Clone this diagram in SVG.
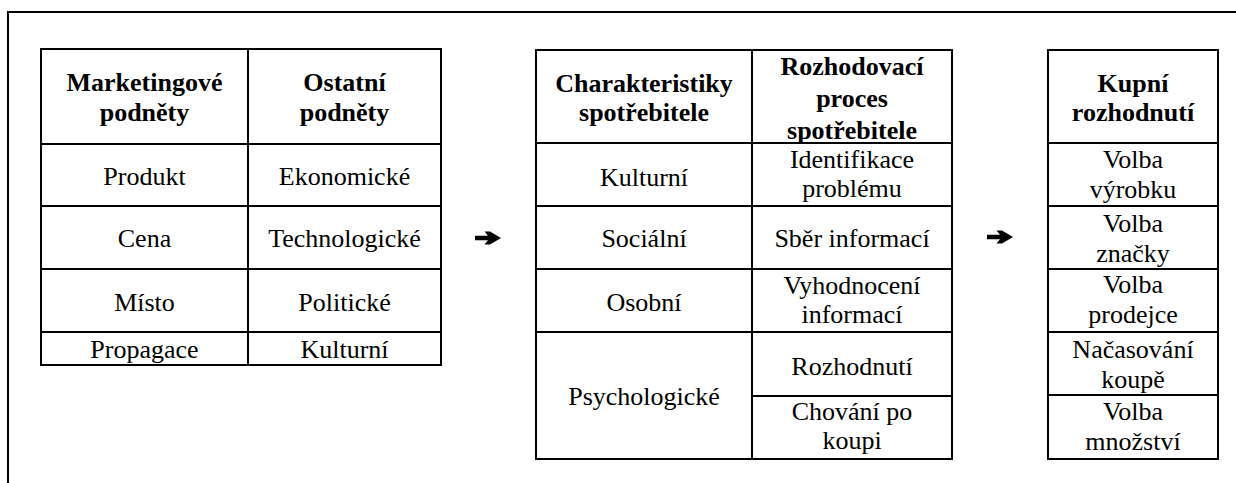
<svg xmlns="http://www.w3.org/2000/svg" width="1236" height="483" viewBox="0 0 1236 483" font-family="Times New Roman, serif" font-size="26">
<style>
.b{font-weight:bold}
.c{fill:#fff;stroke:#000;stroke-width:2}
.frame{fill:none;stroke:#000;stroke-width:2}
.arr{fill:#000}
</style>
<defs>
<path id="arrow" d="M0,-2.2 L13,-2.2 L9.5,-6.5 L15,-6.5 L26,0 L15,6.5 L9.5,6.5 L13,2.2 L0,2.2 Z"/>
</defs>
<rect x="0" y="0" width="1236" height="483" fill="#fff"/>
<path class="frame" d="M8,483 L8,12 L1236,12"/>

<g id="stimuli" text-anchor="middle">
<rect class="c" x="41" y="49" width="207" height="95"/>
<rect class="c" x="248" y="49" width="193" height="95"/>
<rect class="c" x="41" y="144" width="207" height="62"/>
<rect class="c" x="248" y="144" width="193" height="62"/>
<rect class="c" x="41" y="206" width="207" height="63"/>
<rect class="c" x="248" y="206" width="193" height="63"/>
<rect class="c" x="41" y="269" width="207" height="63"/>
<rect class="c" x="248" y="269" width="193" height="63"/>
<rect class="c" x="41" y="332" width="207" height="33"/>
<rect class="c" x="248" y="332" width="193" height="33"/>
<text class="b" x="144.5" y="91">Marketingové</text>
<text class="b" x="144.5" y="121">podněty</text>
<text class="b" x="344.5" y="91">Ostatní</text>
<text class="b" x="344.5" y="121">podněty</text>
<text x="144.5" y="185">Produkt</text>
<text x="344.5" y="185">Ekonomické</text>
<text x="144.5" y="247">Cena</text>
<text x="344.5" y="247">Technologické</text>
<text x="144.5" y="311">Místo</text>
<text x="344.5" y="311">Politické</text>
<text x="144.5" y="358">Propagace</text>
<text x="344.5" y="358">Kulturní</text>
</g>

<g id="consumer" text-anchor="middle">
<rect class="c" x="536" y="50" width="216" height="93"/>
<rect class="c" x="752" y="50" width="200" height="93"/>
<rect class="c" x="536" y="143" width="216" height="63"/>
<rect class="c" x="752" y="143" width="200" height="63"/>
<rect class="c" x="536" y="206" width="216" height="63"/>
<rect class="c" x="752" y="206" width="200" height="63"/>
<rect class="c" x="536" y="269" width="216" height="63"/>
<rect class="c" x="752" y="269" width="200" height="63"/>
<rect class="c" x="536" y="332" width="216" height="127"/>
<rect class="c" x="752" y="332" width="200" height="64"/>
<rect class="c" x="752" y="396" width="200" height="63"/>
<text class="b" x="644" y="92">Charakteristiky</text>
<text class="b" x="644" y="121">spotřebitele</text>
<text class="b" x="852" y="75">Rozhodovací</text>
<text class="b" x="852" y="107">proces</text>
<text class="b" x="852" y="139">spotřebitele</text>
<text x="644" y="186">Kulturní</text>
<text x="852" y="168">Identifikace</text>
<text x="852" y="197">problému</text>
<text x="644" y="247">Sociální</text>
<text x="852" y="247">Sběr informací</text>
<text x="644" y="311">Osobní</text>
<text x="852" y="294">Vyhodnocení</text>
<text x="852" y="323">informací</text>
<text x="644" y="405">Psychologické</text>
<text x="852" y="375">Rozhodnutí</text>
<text x="852" y="420">Chování po</text>
<text x="852" y="449">koupi</text>
</g>

<g id="decision" text-anchor="middle">
<rect class="c" x="1048" y="50" width="170" height="93"/>
<rect class="c" x="1048" y="143" width="170" height="63"/>
<rect class="c" x="1048" y="206" width="170" height="63"/>
<rect class="c" x="1048" y="269" width="170" height="63"/>
<rect class="c" x="1048" y="332" width="170" height="63"/>
<rect class="c" x="1048" y="395" width="170" height="64"/>
<text class="b" x="1133" y="92">Kupní</text>
<text class="b" x="1133" y="121">rozhodnutí</text>
<text x="1133" y="168">Volba</text>
<text x="1133" y="198">výrobku</text>
<text x="1133" y="232">Volba</text>
<text x="1133" y="262">značky</text>
<text x="1133" y="293">Volba</text>
<text x="1133" y="323">prodejce</text>
<text x="1133" y="358">Načasování</text>
<text x="1133" y="388">koupě</text>
<text x="1133" y="420">Volba</text>
<text x="1133" y="450">množství</text>
</g>

<g id="connectors">
<use class="arr" href="#arrow" x="475" y="238"/>
<use class="arr" href="#arrow" x="987" y="237"/>
</g>
</svg>
